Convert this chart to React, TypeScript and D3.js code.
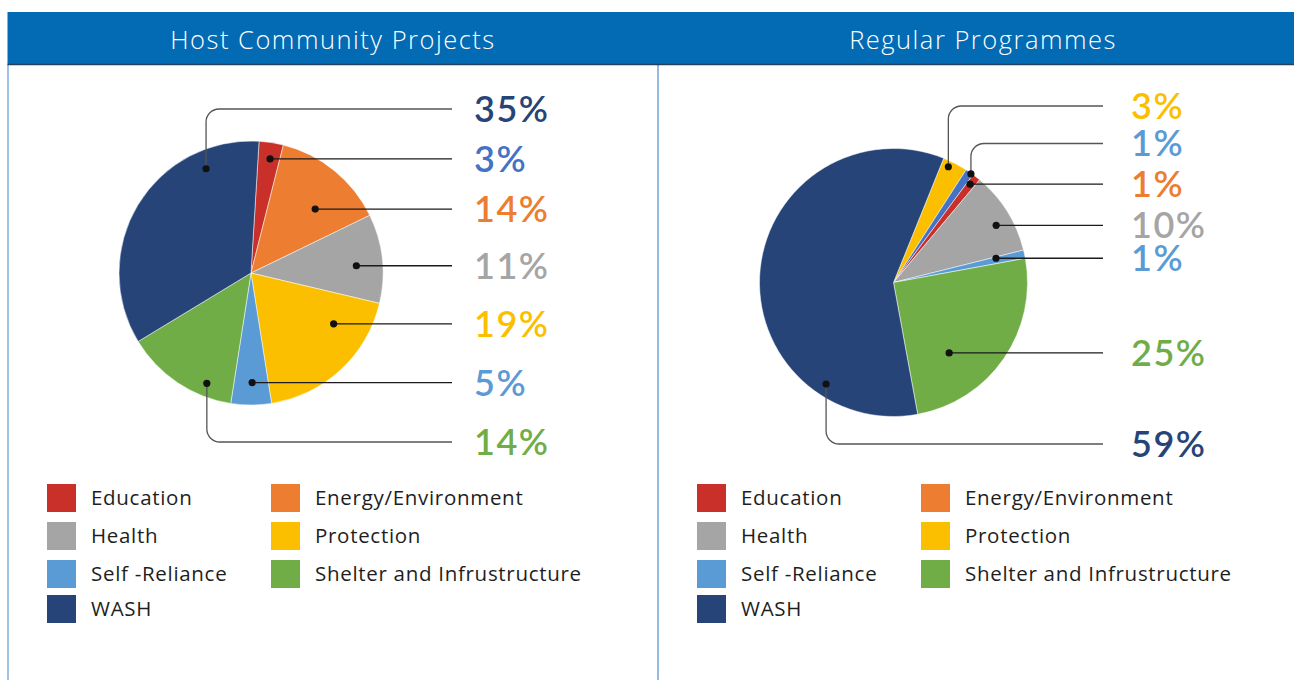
import React from "react";
import * as d3 from "d3";

// ---------- data ----------
const legendNames = ["Education", "Energy/Environment", "Health", "Protection", "Self -Reliance", "Shelter and Infrustructure", "WASH"];
const legendColors = ["#c9302a", "#ed7d31", "#a5a5a5", "#fbbf00", "#5b9bd5", "#70ad47", "#264478"];

const leftTitle = "Host Community Projects";
const leftSlices = ["Education", "Energy/Environment", "Health", "Protection", "Self -Reliance", "Shelter and Infrustructure", "WASH"];
const leftValues = [3, 14, 11, 19, 5, 14, 35];
const leftLabels = ["3%", "14%", "11%", "19%", "5%", "14%", "35%"];
const leftSliceColors = ["#c9302a", "#ed7d31", "#a5a5a5", "#fbbf00", "#5b9bd5", "#70ad47", "#264478"];
const leftLabelColors = ["#4472c4", "#ed7d31", "#a5a5a5", "#fbbf00", "#5b9bd5", "#70ad47", "#264478"];

const rightTitle = "Regular Programmes";
const rightSlices = ["Protection", "Other", "Education", "Health", "Self -Reliance", "Shelter and Infrustructure", "WASH"];
const rightValues = [3, 1, 1, 10, 1, 25, 59];
const rightLabels = ["3%", "1%", "1%", "10%", "1%", "25%", "59%"];
const rightSliceColors = ["#fbbf00", "#4472c4", "#c9302a", "#a5a5a5", "#5b9bd5", "#70ad47", "#264478"];
const rightLabelColors = ["#fbbf00", "#5b9bd5", "#ed7d31", "#a5a5a5", "#5b9bd5", "#70ad47", "#264478"];

// ---------- layout ----------
const W = 1294, H = 680;
const FONT = "Lato, 'Open Sans', sans-serif";
const FONT2 = "'Open Sans', Lato, sans-serif";
const deg = Math.PI / 180;

type PieCfg = {
  panelX: number; panelW: number; title: string;
  cx: number; cy: number; r: number; start: number;
  values: number[]; labels: string[]; sliceColors: string[]; labelColors: string[]; names: string[];
  anchorT: number[]; anchorR: number[]; elbowY: (number | null)[];
  lineEnd: number; labelX: number;
};

const charts: PieCfg[] = [
  {
    panelX: 8, panelW: 650, title: leftTitle,
    cx: 251, cy: 273, r: 132, start: 3.5 * deg,
    values: leftValues, labels: leftLabels, sliceColors: leftSliceColors, labelColors: leftLabelColors, names: leftSlices,
    anchorT: [0.56, 0.62, 0.56, 0.27, 0.47, 0.26, 0.785],
    anchorR: [0.876, 0.686, 0.8, 0.735, 0.83, 0.9, 0.86],
    elbowY: [null, null, null, null, null, 442, 109],
    lineEnd: 452, labelX: 474,
  },
  {
    panelX: 658, panelW: 650, title: rightTitle,
    cx: 893.5, cy: 282.5, r: 134, start: 22 * deg,
    values: rightValues, labels: rightLabels, sliceColors: rightSliceColors, labelColors: rightLabelColors, names: rightSlices,
    anchorT: [0.31, 0.75, 0.42, 0.58, 0.19, 0.69, 0.207],
    anchorR: [0.956, 0.995, 0.93, 0.877, 0.786, 0.67, 0.91],
    elbowY: [106, 143.5, null, null, null, null, 444],
    lineEnd: 1103, labelX: 1131,
  },
];

function Pie({ c }: { c: PieCfg }) {
  const pie = d3.pie<number>().sort(null).value((d) => d).startAngle(c.start).endAngle(c.start + 2 * Math.PI);
  const arcs = pie(c.values);
  const arc = d3.arc<d3.PieArcDatum<number>>().innerRadius(0).outerRadius(c.r);
  const cr = 13;
  return (
    <g>
      <g transform={`translate(${c.cx},${c.cy})`}>
        {arcs.map((a, i) => (
          <path key={i} d={arc(a) || ""} fill={c.sliceColors[i]} stroke="#ffffff" strokeWidth={0.5} />
        ))}
      </g>
      {arcs.map((a, i) => {
        const ang = a.startAngle + c.anchorT[i] * (a.endAngle - a.startAngle);
        const rr = c.r * c.anchorR[i];
        const ax = c.cx + rr * Math.sin(ang);
        const ay = c.cy - rr * Math.cos(ang);
        const ey = c.elbowY[i];
        let d: string;
        let ly: number;
        if (ey == null) {
          d = `M${ax},${ay}H${c.lineEnd}`;
          ly = ay;
        } else if (ey < ay) {
          d = `M${ax},${ay}V${ey + cr}A${cr},${cr} 0 0 1 ${ax + cr},${ey}H${c.lineEnd}`;
          ly = ey;
        } else {
          d = `M${ax},${ay}V${ey - cr}A${cr},${cr} 0 0 0 ${ax + cr},${ey}H${c.lineEnd}`;
          ly = ey;
        }
        return (
          <g key={"l" + i}>
            <path d={d} fill="none" stroke={ey == null ? "#1a1a1a" : "#555"} strokeWidth={1.3} />
            <circle cx={ax} cy={ay} r={3.6} fill="#111" />
            <text x={c.labelX} y={ly} dy="0.36em" fontFamily={FONT} fontWeight={600} fontSize={36} letterSpacing={1.5} fill={c.labelColors[i]}>
              {c.labels[i]}
            </text>
          </g>
        );
      })}
    </g>
  );
}

function Legend({ x0 }: { x0: number }) {
  const rowsY = [484, 522, 560, 595];
  const colX = [0, 224];
  return (
    <g>
      {legendNames.map((n, i) => {
        const col = i === 6 ? 0 : i % 2;
        const row = Math.floor(i / 2);
        const x = x0 + colX[col];
        const y = rowsY[row];
        return (
          <g key={n}>
            <rect x={x} y={y} width={29} height={28} fill={legendColors[i]} />
            <text x={x + 44} y={y + 14} dy="0.36em" fontFamily={FONT2} fontSize={20.5} letterSpacing={0.7} fill="#1e1e1e">{n}</text>
          </g>
        );
      })}
    </g>
  );
}

export default function App() {
  return (
    <svg width={W} height={H} style={{ position: "absolute", left: 0, top: 0, background: "#fff" }}>
      <rect x={0} y={0} width={W} height={H} fill="#fff" />
      {/* panel borders */}
      <line x1={8} y1={64} x2={8} y2={H} stroke="#7fb0df" strokeWidth={1.5} />
      <line x1={658} y1={64} x2={658} y2={H} stroke="#4d8cc9" strokeWidth={1.2} />
      {/* header */}
      <rect x={7.5} y={12} width={W - 7.5} height={52} fill="#036ab4" />
      <line x1={7.5} y1={64.5} x2={W} y2={64.5} stroke="#22405f" strokeWidth={1.5} />
      {charts.map((c, k) => (
        <text key={"t" + k} x={c.panelX + c.panelW / 2} y={40} dy="0.36em" textAnchor="middle" fontFamily={FONT2} fontWeight={300} fontSize={25.5} letterSpacing={1.5} fill="#fff">
          {c.title}
        </text>
      ))}
      {charts.map((c, k) => <Pie key={k} c={c} />)}
      <Legend x0={47} />
      <Legend x0={697} />
    </svg>
  );
}
